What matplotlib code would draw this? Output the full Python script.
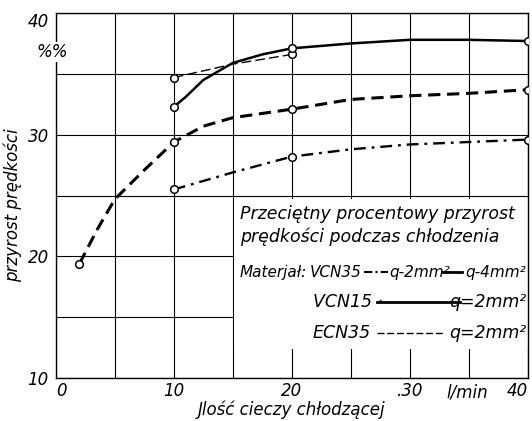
import matplotlib.pyplot as plt
from matplotlib.patches import Rectangle

# VCN15, q=2mm2 (solid)
vcn15_x = [10, 11, 12.5, 15, 17.5, 20, 25, 30, 35, 40]
vcn15_y = [32.3, 33.1, 34.5, 35.9, 36.6, 37.1, 37.5, 37.8, 37.8, 37.7]
# ECN35, q=2mm2 (thin dashed)
ecn35_x = [10, 15, 20]
ecn35_y = [34.7, 35.8, 36.6]
# VCN35, q=4mm2 (heavy dashed)
vcn35_4_x = [2, 3.5, 5, 7.5, 10, 12.5, 15, 20, 25, 30, 35, 40]
vcn35_4_y = [19.4, 22.2, 24.7, 27.1, 29.4, 30.7, 31.4, 32.1, 32.9, 33.2, 33.4, 33.7]
# VCN35, q=2mm2 (dash-dot)
vcn35_2_x = [10, 15, 20, 25, 30, 35, 40]
vcn35_2_y = [25.5, 26.9, 28.2, 28.8, 29.2, 29.4, 29.6]

x_ticks = [0, 10, 20, 30, 40]
x_labels = ['0', '10', '20', '.30', '40']
y_ticks = [10, 20, 30, 40]

fig = plt.figure(figsize=(5.32, 4.21), dpi=100)
ax = fig.add_axes([0.105, 0.102, 0.887, 0.867])
ax.set_xlim(0, 40)
ax.set_ylim(10, 40)

ax.set_xticks(range(0, 41, 5), minor=True)
ax.set_yticks(range(10, 41, 5), minor=True)
ax.set_xticks(x_ticks)
ax.set_xticklabels(x_labels, style='italic', fontsize=12)
ax.set_yticks(y_ticks)
ax.set_yticklabels([str(v) for v in y_ticks], style='italic', fontsize=12)
ax.tick_params(which='both', length=0)
ax.tick_params(axis='y', pad=5)
ax.tick_params(axis='x', pad=3)
xl = ax.get_xticklabels()
xl[0].set_ha('left')
xl[-1].set_ha('right')
ax.get_yticklabels()[-1].set_va('top')
ax.grid(which='both', color='black', linewidth=0.8)
ax.set_axisbelow(True)
for s in ax.spines.values():
    s.set_linewidth(1.0)

# white area behind the legend text
ax.add_patch(Rectangle((15.08, 12.4), 25, 12.3, facecolor='white', edgecolor='none', zorder=1))

mk = dict(marker='o', markersize=5.5, markerfacecolor='white', markeredgecolor='black', markeredgewidth=1.1)
ax.plot(ecn35_x, ecn35_y, color='black', lw=1.0, dashes=(7, 3), zorder=3,
        markevery=[0, 2], **mk)
ax.plot(vcn15_x, vcn15_y, color='black', lw=1.8, zorder=3,
        markevery=[0, 5, 9], **mk)
ax.plot(vcn35_4_x, vcn35_4_y, color='black', lw=2.2, dashes=(4, 2.2), zorder=3,
        markevery=[0, 4, 7, 11], **mk)
ax.plot(vcn35_2_x, vcn35_2_y, color='black', lw=1.7, dashes=(5, 2.5, 1.2, 2.5), zorder=3,
        markevery=[0, 2, 6], **mk)

it = dict(style='italic', fontsize=12.5, transform=ax.transAxes)
sm = dict(style='italic', fontsize=11, transform=ax.transAxes)
ax.text(-0.008, 0.893, '%%', ha='center', va='center', style='italic', fontsize=12,
        transform=ax.transAxes, bbox=dict(facecolor='white', edgecolor='none', pad=0.5))
ax.text(0.871, -0.04, 'l/min', ha='center', va='center', style='italic', fontsize=12,
        transform=ax.transAxes)
ax.set_xlabel('Jlość cieczy chłodzącej', style='italic', fontsize=12, labelpad=0)
ax.set_ylabel('przyrost prędkości', style='italic', fontsize=12)
ax.yaxis.set_label_coords(-0.072, 0.474)

ax.text(0.39, 0.449, 'Przeciętny procentowy przyrost', ha='left', va='center', **it)
ax.text(0.39, 0.386, 'prędkości podczas chłodzenia', ha='left', va='center', **it)
ax.text(0.39, 0.29, 'Materjał:', ha='left', va='center', **sm)
ax.text(0.648, 0.29, 'VCN35', ha='right', va='center', **sm)
ax.text(0.707, 0.29, 'q-2mm²', ha='left', va='center', **sm)
ax.text(0.996, 0.29, 'q-4mm²', ha='right', va='center', **sm)
ax.text(0.544, 0.208, 'VCN15 ·', ha='left', va='center', **it)
ax.text(0.998, 0.208, 'q=2mm²', ha='right', va='center', **it)
ax.text(0.544, 0.123, 'ECN35', ha='left', va='center', **it)
ax.text(0.998, 0.123, 'q=2mm²', ha='right', va='center', **it)

ax.plot([0.652, 0.703], [0.29, 0.29], transform=ax.transAxes, color='black', lw=1.5,
        dashes=(4, 1.5, 1, 1.5), zorder=3)
ax.plot([0.818, 0.86], [0.29, 0.29], transform=ax.transAxes, color='black', lw=2.0, zorder=3)
ax.plot([0.68, 0.856], [0.208, 0.208], transform=ax.transAxes, color='black', lw=2.0, zorder=3)
ax.plot([0.68, 0.824], [0.123, 0.123], transform=ax.transAxes, color='black', lw=1.0,
        dashes=(5, 2), zorder=3)

fig.savefig('out.png', dpi=100)
